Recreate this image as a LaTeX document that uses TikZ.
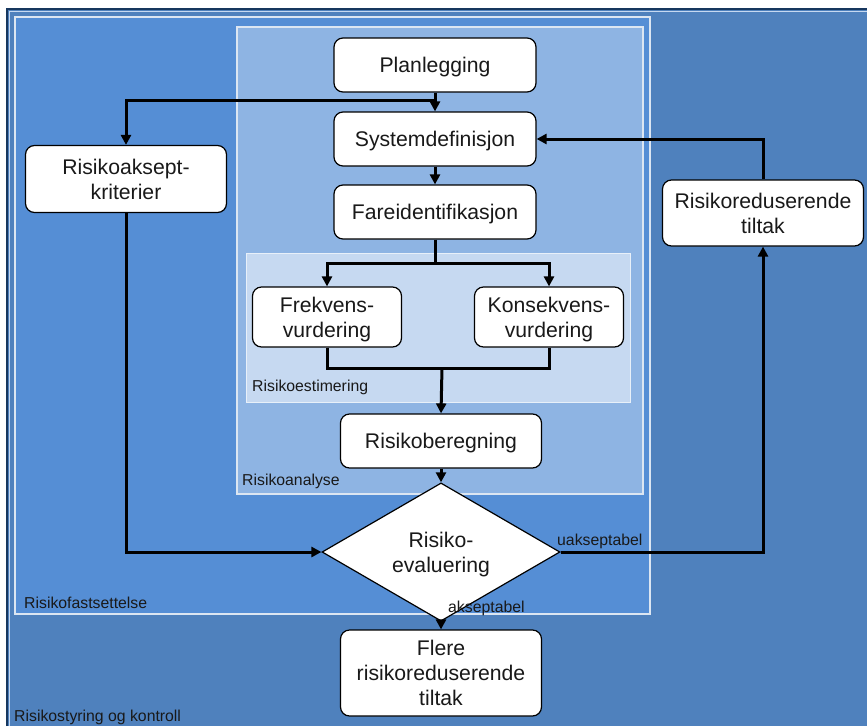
\documentclass[tikz,border=0pt]{standalone}
\usepackage{fontspec}
\setmainfont{Liberation Sans}
\usetikzlibrary{arrows.meta,shapes.geometric}
\definecolor{outerblue}{HTML}{4F81BD}
\definecolor{fastblue}{HTML}{558ED5}
\definecolor{analblue}{HTML}{8EB4E3}
\definecolor{estblue}{HTML}{C6D9F1}
\definecolor{navy}{HTML}{17375E}
\definecolor{paleline}{HTML}{DCE6F2}
\tikzset{
  box/.style={draw=black, line width=1.2pt, fill=white, rounded corners=9pt,
    align=center, inner sep=0pt, text depth=0pt, font=\fontsize{21.2}{25}\selectfont, text=black!90},
  dec/.style={draw=black, line width=1.2pt, fill=white, diamond, inner sep=0pt,
    align=center, text depth=0pt, font=\fontsize{21.2}{25}\selectfont, text=black!90,
    minimum width=238pt, minimum height=97pt},
  conn/.style={line width=3pt, -{Triangle[length=10pt,width=10pt]}},
  plain/.style={line width=3pt},
  region/.style={anchor=west, inner sep=0pt, font=\fontsize{15.8}{18}\selectfont, text=black!90},
  elabel/.style={inner sep=0pt, font=\fontsize{15.8}{18}\selectfont, text=black!90}
}
\begin{document}
\begin{tikzpicture}[x=1pt,y=-1pt]
\useasboundingbox (0,0) rectangle (867,726);
\fill[white] (0,0) rectangle (867,726);
% outer region
\fill[outerblue] (7,8) rectangle (867,726);
\draw[navy, line width=2pt] (7,726) -- (7,9) -- (867,9);
\draw[estblue, line width=1.5pt] (9.5,726) -- (9.5,11.5) -- (867,11.5);
% regions
\draw[fill=fastblue, draw=paleline, line width=2.5pt] (15,17) rectangle (650,614);
\draw[fill=analblue, draw=paleline, line width=2pt] (237,27) rectangle (643,494);
\draw[fill=estblue, draw=white!60!estblue, line width=1pt] (246,253) rectangle (630,402);
% region labels
\node[region] (lest) at (252,387) {Risikoestimering};
\node[region] (lanal) at (242,481) {Risikoanalyse};
\node[region] (lfast) at (24,603) {Risikofastsettelse};
\node[region] (lstyr) at (14,717) {Risikostyring og kontroll};
% nodes
\node[box, minimum width=202pt, minimum height=54pt] (plan) at (435,65) {Planlegging};
\node[box, minimum width=202pt, minimum height=54pt] (sys) at (435,139) {Systemdefinisjon};
\node[box, minimum width=202pt, minimum height=54pt] (fare) at (435,212) {Fareidentifikasjon};
\node[box, minimum width=149pt, minimum height=60pt] (frek) at (327,317) {Frekvens-\\vurdering};
\node[box, minimum width=149pt, minimum height=60pt] (kons) at (549,317) {Konsekvens-\\vurdering};
\node[box, minimum width=201pt, minimum height=54pt] (rb) at (441,441) {Risikoberegning};
\node[dec] (ev) at (441,552) {Risiko-\\evaluering};
\node[box, minimum width=201pt, minimum height=86pt] (flere) at (441,673) {Flere\\risikoreduserende\\tiltak};
\node[box, minimum width=201pt, minimum height=67pt] (akk) at (126,179) {Risikoaksept-\\kriterier};
\node[box, minimum width=201pt, minimum height=66pt] (rrt) at (763,213) {Risikoreduserende\\tiltak};
% coordinates
\coordinate (j1) at (435,100);
\coordinate (br) at (435,263);
\coordinate (mg) at (442,368);
% connectors
\draw[conn] (plan) -- (sys);
\draw[conn] (j1) -| (akk.north);
\draw[conn] (sys) -- (fare);
\draw[plain] (fare.south) -- (br);
\draw[conn] (br) -| (frek.north);
\draw[conn] (br) -| (kons.north);
\draw[plain] (frek.south) |- (mg);
\draw[plain] (kons.south) |- (mg);
\draw[conn] (mg) -- (rb.north);
\draw[conn] (rb) -- (ev.north);
\draw[conn] (akk.south) |- (ev.west);
\draw[conn] (ev.east) -| (rrt.south);
\draw[conn] (rrt.north) |- (sys.east);
\draw[conn] (ev.south) -- (flere.north);
% edge labels
\node[elabel, anchor=west] (lu) at (557,541) {uakseptabel};
\node[elabel, anchor=west] (la) at (448,608) {akseptabel};
\end{tikzpicture}
\end{document}
